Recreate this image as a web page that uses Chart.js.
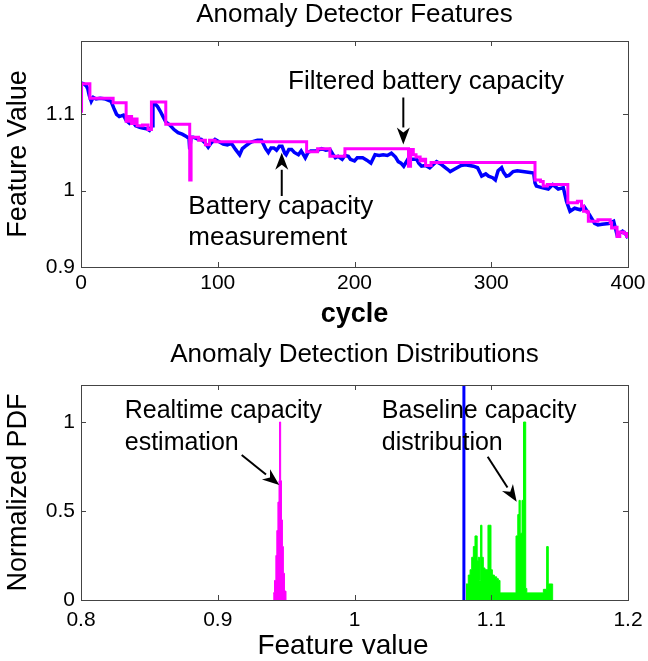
<!DOCTYPE html>
<html>
<head>
<meta charset="utf-8">
<script src="https://cdn.jsdelivr.net/npm/chart.js@4.4.1/dist/chart.umd.min.js"></script>
<style>
  html, body { margin: 0; padding: 0; background: #fff; }
  #wrap { position: relative; width: 648px; height: 661px; }
  #topBox { position: absolute; left: 0; top: 0; width: 648px; height: 330px; }
  #botBox { position: absolute; left: 0; top: 330px; width: 648px; height: 331px; }
</style>
</head>
<body>
<div id="wrap">
  <div id="topBox"><canvas id="featChart" width="648" height="330"></canvas></div>
  <div id="botBox"><canvas id="distChart" width="648" height="331"></canvas></div>
</div>
<script>
// --- top panel: capacity per cycle ---
const blueCycle = [0, 2, 4, 5, 6, 7.5, 9, 11, 14, 18, 22, 24, 26, 28, 31, 33, 35.6, 38, 40, 43, 45, 48, 50, 52,
  52.6, 54, 56, 58, 60, 62, 65, 68, 71, 74, 77, 79, 79.5, 80.5, 82, 85, 88, 91, 93, 95, 98, 101, 104, 107, 110,
  113, 116, 118, 120, 123, 125, 129, 132, 135, 137, 139, 141, 143, 145, 147, 149, 150, 152, 154, 156, 159, 161,
  164, 166, 168, 172, 176, 179, 182, 184, 186, 188, 191, 193, 195.5, 197, 200, 202, 204, 206, 209, 212, 215,
  218, 221, 224, 227, 230, 232, 234, 236, 239, 242, 245.5, 247, 249, 252, 255, 258, 260, 263, 265, 268, 270,
  273, 275, 278, 281, 284, 287, 290, 293, 296, 298, 301, 303, 305, 307.6, 309, 311, 313, 316, 319, 323, 327,
  331, 332, 333, 337, 341.7, 345, 349, 352.7, 355, 357.6, 361, 365, 368, 372, 375.6, 378, 381, 386, 389.5,
  392, 396, 398, 400];
const blueValue = [1.141, 1.140, 1.137, 1.133, 1.125, 1.117, 1.122, 1.120, 1.121, 1.120, 1.117, 1.108, 1.100,
  1.097, 1.099, 1.092, 1.088, 1.090, 1.085, 1.083, 1.082, 1.081, 1.079, 1.085, 1.113, 1.114, 1.110, 1.104,
  1.097, 1.090, 1.086, 1.080, 1.076, 1.074, 1.071, 1.068, 1.054, 1.070, 1.070, 1.068, 1.067, 1.062, 1.057,
  1.062, 1.067, 1.064, 1.061, 1.060, 1.062, 1.054, 1.047, 1.055, 1.058, 1.062, 1.064, 1.066, 1.066, 1.055,
  1.050, 1.056, 1.056, 1.053, 1.058, 1.058, 1.049, 1.047, 1.054, 1.054, 1.050, 1.047, 1.052, 1.043, 1.050,
  1.052, 1.052, 1.055, 1.053, 1.054, 1.048, 1.043, 1.045, 1.041, 1.046, 1.045, 1.041, 1.039, 1.043, 1.043,
  1.043, 1.040, 1.036, 1.047, 1.046, 1.047, 1.046, 1.049, 1.044, 1.038, 1.036, 1.032, 1.041, 1.041, 1.041,
  1.036, 1.032, 1.033, 1.030, 1.035, 1.038, 1.035, 1.032, 1.028, 1.025, 1.028, 1.030, 1.033, 1.034, 1.033,
  1.032, 1.030, 1.019, 1.022, 1.019, 1.017, 1.014, 1.026, 1.030, 1.024, 1.019, 1.020, 1.025, 1.026, 1.025,
  1.024, 1.023, 1.010, 1.006, 1.004, 1.002, 1.008, 1.002, 1.004, 0.986, 0.973, 0.977, 0.975, 0.979, 0.968,
  0.957, 0.955, 0.956, 0.957, 0.960, 0.942, 0.947, 0.944, 0.938];

// filtered capacity: each value holds from its cycle until the next one
const magentaCycle = [0, 0.4, 6.5, 23.5, 33, 35, 37, 39, 41, 45, 49, 51.5, 62, 79.5, 80.5, 86, 91, 94, 98,
  165, 173, 182, 193, 239.5, 241, 243, 245, 248, 250, 252, 256, 332, 336, 338, 341, 356, 363, 366, 367.5,
  370, 371, 378, 387, 388, 391, 392, 394, 397, 399, 400];
const magentaValue = [1.104, 1.140, 1.121, 1.115, 1.091, 1.097, 1.088, 1.094, 1.085, 1.086, 1.080, 1.116,
  1.087, 1.014, 1.070, 1.066, 1.060, 1.066, 1.064, 1.051, 1.055, 1.045, 1.055, 1.032, 1.054, 1.047, 1.044,
  1.039, 1.041, 1.033, 1.037, 1.014, 1.012, 1.006, 1.008, 0.984, 0.986, 0.980, 0.973, 0.972, 0.960, 0.962,
  0.958, 0.951, 0.952, 0.940, 0.946, 0.944, 0.940, 0.940];

const cycleTicks = [0, 100, 200, 300, 400];
const featureTicks = [0.9, 1, 1.1];

// --- bottom panel: normalized PDFs (bin start, height) ---
const realtimeBin = [0.9405, 0.9415, 0.9425, 0.9432, 0.9440, 0.9448, 0.9452, 0.9460, 0.9466, 0.9473, 0.9480,
  0.9488, 0.9499];
const realtimePdf = [0.04, 0.11, 0.25, 0.39, 0.55, 0.67, 1.0, 0.67, 0.45, 0.30, 0.15, 0.05, 0];

const baselineBin = [1.0815, 1.0832, 1.0845, 1.0857, 1.0869, 1.0881, 1.0897, 1.0905, 1.0914, 1.0922, 1.0932,
  1.0942, 1.0954, 1.0976, 1.0998, 1.1008, 1.1023, 1.1040, 1.1052, 1.1064, 1.1181, 1.1194, 1.1203, 1.1212,
  1.1225, 1.1236, 1.1252, 1.1260, 1.1381, 1.1405, 1.1417, 1.1449];
const baselinePdf = [0.09, 0.14, 0.17, 0.24, 0.30, 0.36, 0.22, 0.24, 0.11, 0.42, 0.24, 0.18, 0.17, 0.42, 0.17,
  0.14, 0.13, 0.12, 0.11, 0.04, 0.36, 0.48, 0.56, 0.375, 0.56, 1.0, 0.065, 0.04, 0.06, 0.30, 0.09, 0];

const threshold = 1.08;
const pdfXTicks = [0.8, 0.9, 1, 1.1, 1.2];
const pdfYTicks = [0, 0.5, 1];

const FONT = '"Liberation Sans", Arial, sans-serif';

function pts(xs, ys) {
  return xs.map((x, i) => ({ x: x, y: ys[i] }));
}
function fmt(v) {
  return String(Math.round(v * 100) / 100);
}

// box, inward ticks, titles, notes and arrows
const matlabLook = {
  id: 'matlabLook',
  afterDraw(chart) {
    const o = chart.options.plugins.matlabLook;
    const ctx = chart.ctx;
    const a = chart.chartArea;
    const xs = chart.scales.x, ys = chart.scales.y;
    ctx.save();
    ctx.strokeStyle = '#444';
    ctx.lineWidth = 1;
    ctx.beginPath();
    xs.ticks.forEach(t => {
      const px = Math.round(xs.getPixelForValue(t.value)) + 0.5;
      ctx.moveTo(px, a.bottom); ctx.lineTo(px, a.bottom - 5);
      ctx.moveTo(px, a.top); ctx.lineTo(px, a.top + 5);
    });
    ys.ticks.forEach(t => {
      const py = Math.round(ys.getPixelForValue(t.value)) + 0.5;
      ctx.moveTo(a.left, py); ctx.lineTo(a.left + 5, py);
      ctx.moveTo(a.right, py); ctx.lineTo(a.right - 5, py);
    });
    ctx.stroke();
    ctx.strokeRect(Math.round(a.left) + 0.5, Math.round(a.top) + 0.5,
      Math.round(a.right - a.left), Math.round(a.bottom - a.top));

    ctx.fillStyle = '#000';
    ctx.textAlign = 'center';
    ctx.textBaseline = 'middle';
    const cx = (a.left + a.right) / 2;
    ctx.font = o.titleFont;
    ctx.fillText(o.title, cx, o.titleY);
    ctx.font = o.xLabelFont;
    ctx.fillText(o.xLabel, o.xLabelX || cx, o.xLabelY);
    ctx.save();
    ctx.translate(o.yLabelX, (a.top + a.bottom) / 2);
    ctx.rotate(-Math.PI / 2);
    ctx.font = o.yLabelFont;
    ctx.fillText(o.yLabel, 0, 0);
    ctx.restore();

    ctx.font = o.noteFont;
    ctx.textAlign = 'left';
    ctx.textBaseline = 'alphabetic';
    o.notes.forEach(n => {
      const px = xs.getPixelForValue(n.x), py = ys.getPixelForValue(n.y);
      n.lines.forEach((line, i) => ctx.fillText(line, px, py + i * o.noteLine));
    });
    o.arrows.forEach(ar => {
      const x1 = xs.getPixelForValue(ar.x1), y1 = ys.getPixelForValue(ar.y1);
      const x2 = xs.getPixelForValue(ar.x2), y2 = ys.getPixelForValue(ar.y2);
      const ang = Math.atan2(y2 - y1, x2 - x1);
      const hl = 17, hw = 6.5;
      const bx = x2 - hl * Math.cos(ang), by = y2 - hl * Math.sin(ang);
      ctx.strokeStyle = '#000';
      ctx.lineWidth = 2;
      ctx.beginPath(); ctx.moveTo(x1, y1); ctx.lineTo(bx, by); ctx.stroke();
      ctx.beginPath();
      ctx.moveTo(x2, y2);
      ctx.lineTo(bx + hw * Math.sin(ang), by - hw * Math.cos(ang));
      ctx.lineTo(x2 - hl * 0.7 * Math.cos(ang), y2 - hl * 0.7 * Math.sin(ang));
      ctx.lineTo(bx - hw * Math.sin(ang), by + hw * Math.cos(ang));
      ctx.closePath();
      ctx.fill();
    });
    ctx.restore();
  }
};

function axis(min, max, ticks, fixSize, horizontal, pad) {
  return {
    type: 'linear',
    min: min,
    max: max,
    afterBuildTicks: s => { s.ticks = ticks.map(v => ({ value: v })); },
    afterFit: s => {
      if (horizontal) s.height = fixSize; else s.width = fixSize;
      s.paddingLeft = 0; s.paddingRight = 0; s.paddingTop = 0; s.paddingBottom = 0;
    },
    grid: { display: false, drawTicks: false },
    border: { display: false },
    ticks: {
      color: '#000',
      font: { family: FONT, size: 21 },
      padding: pad,
      maxRotation: 0,
      autoSkip: false,
      callback: v => fmt(v)
    }
  };
}

new Chart(document.getElementById('featChart'), {
  type: 'line',
  data: {
    datasets: [
      {
        label: 'Filtered battery capacity',
        data: pts(magentaCycle, magentaValue),
        borderColor: '#ff00ff',
        borderWidth: 3,
        stepped: true,
        pointRadius: 0,
        order: 0
      },
      {
        label: 'Battery capacity measurement',
        data: pts(blueCycle, blueValue),
        borderColor: '#0000ff',
        borderWidth: 3.5,
        pointRadius: 0,
        tension: 0,
        order: 1
      }
    ]
  },
  options: {
    responsive: false,
    animation: false,
    layout: { padding: { left: 0, right: 20, top: 41, bottom: 0 } },
    scales: {
      x: axis(0, 400, cycleTicks, 63, true, 4),
      y: axis(0.9, 1.196, featureTicks, 81, false, 6)
    },
    plugins: {
      legend: { display: false },
      tooltip: { enabled: false },
      matlabLook: {
        title: 'Anomaly Detector Features', titleY: 15, titleFont: '26px ' + FONT,
        xLabel: 'cycle', xLabelY: 315, xLabelFont: 'bold 27px ' + FONT,
        yLabel: 'Feature Value', yLabelX: 19, yLabelFont: '27px ' + FONT,
        noteFont: '26px ' + FONT, noteLine: 31,
        notes: [
          { x: 151.4, y: 1.133, lines: ['Filtered battery capacity'] },
          { x: 78.5, y: 0.970, lines: ['Battery capacity', 'measurement'] }
        ],
        arrows: [
          { x1: 235.7, y1: 1.122, x2: 235.7, y2: 1.0605 },
          { x1: 146.8, y1: 0.993, x2: 146.8, y2: 1.0496 }
        ]
      }
    }
  },
  plugins: [matlabLook]
});

new Chart(document.getElementById('distChart'), {
  type: 'line',
  data: {
    datasets: [
      {
        label: 'Threshold',
        data: [{ x: threshold, y: 0 }, { x: threshold, y: 1.21 }],
        borderColor: '#0000ff',
        borderWidth: 3,
        pointRadius: 0,
        order: 0
      },
      {
        label: 'Realtime capacity estimation',
        data: pts(realtimeBin, realtimePdf),
        borderColor: '#ff00ff',
        backgroundColor: '#ff00ff',
        borderWidth: 1,
        stepped: true,
        fill: 'origin',
        pointRadius: 0,
        order: 1
      },
      {
        label: 'Baseline capacity distribution',
        data: pts(baselineBin, baselinePdf),
        borderColor: '#00ff00',
        backgroundColor: '#00ff00',
        borderWidth: 1,
        stepped: true,
        fill: 'origin',
        pointRadius: 0,
        order: 2
      }
    ]
  },
  options: {
    responsive: false,
    animation: false,
    layout: { padding: { left: 0, right: 20, top: 55, bottom: 0 } },
    scales: {
      x: axis(0.8, 1.2, pdfXTicks, 61, true, 8),
      y: axis(0, 1.208, pdfYTicks, 81, false, 6)
    },
    plugins: {
      legend: { display: false },
      tooltip: { enabled: false },
      matlabLook: {
        title: 'Anomaly Detection Distributions', titleY: 25, titleFont: '26px ' + FONT,
        xLabel: 'Feature value', xLabelX: 343, xLabelY: 316, xLabelFont: '28px ' + FONT,
        yLabel: 'Normalized PDF', yLabelX: 19, yLabelFont: '27px ' + FONT,
        noteFont: '25px ' + FONT, noteLine: 32,
        notes: [
          { x: 0.832, y: 1.022, lines: ['Realtime capacity', 'estimation'] },
          { x: 1.020, y: 1.022, lines: ['Baseline capacity', 'distribution'] }
        ],
        arrows: [
          { x1: 0.9175, y1: 0.815, x2: 0.945, y2: 0.646 },
          { x1: 1.0974, y1: 0.805, x2: 1.1186, y2: 0.552 }
        ]
      }
    }
  },
  plugins: [matlabLook]
});
</script>
</body>
</html>
